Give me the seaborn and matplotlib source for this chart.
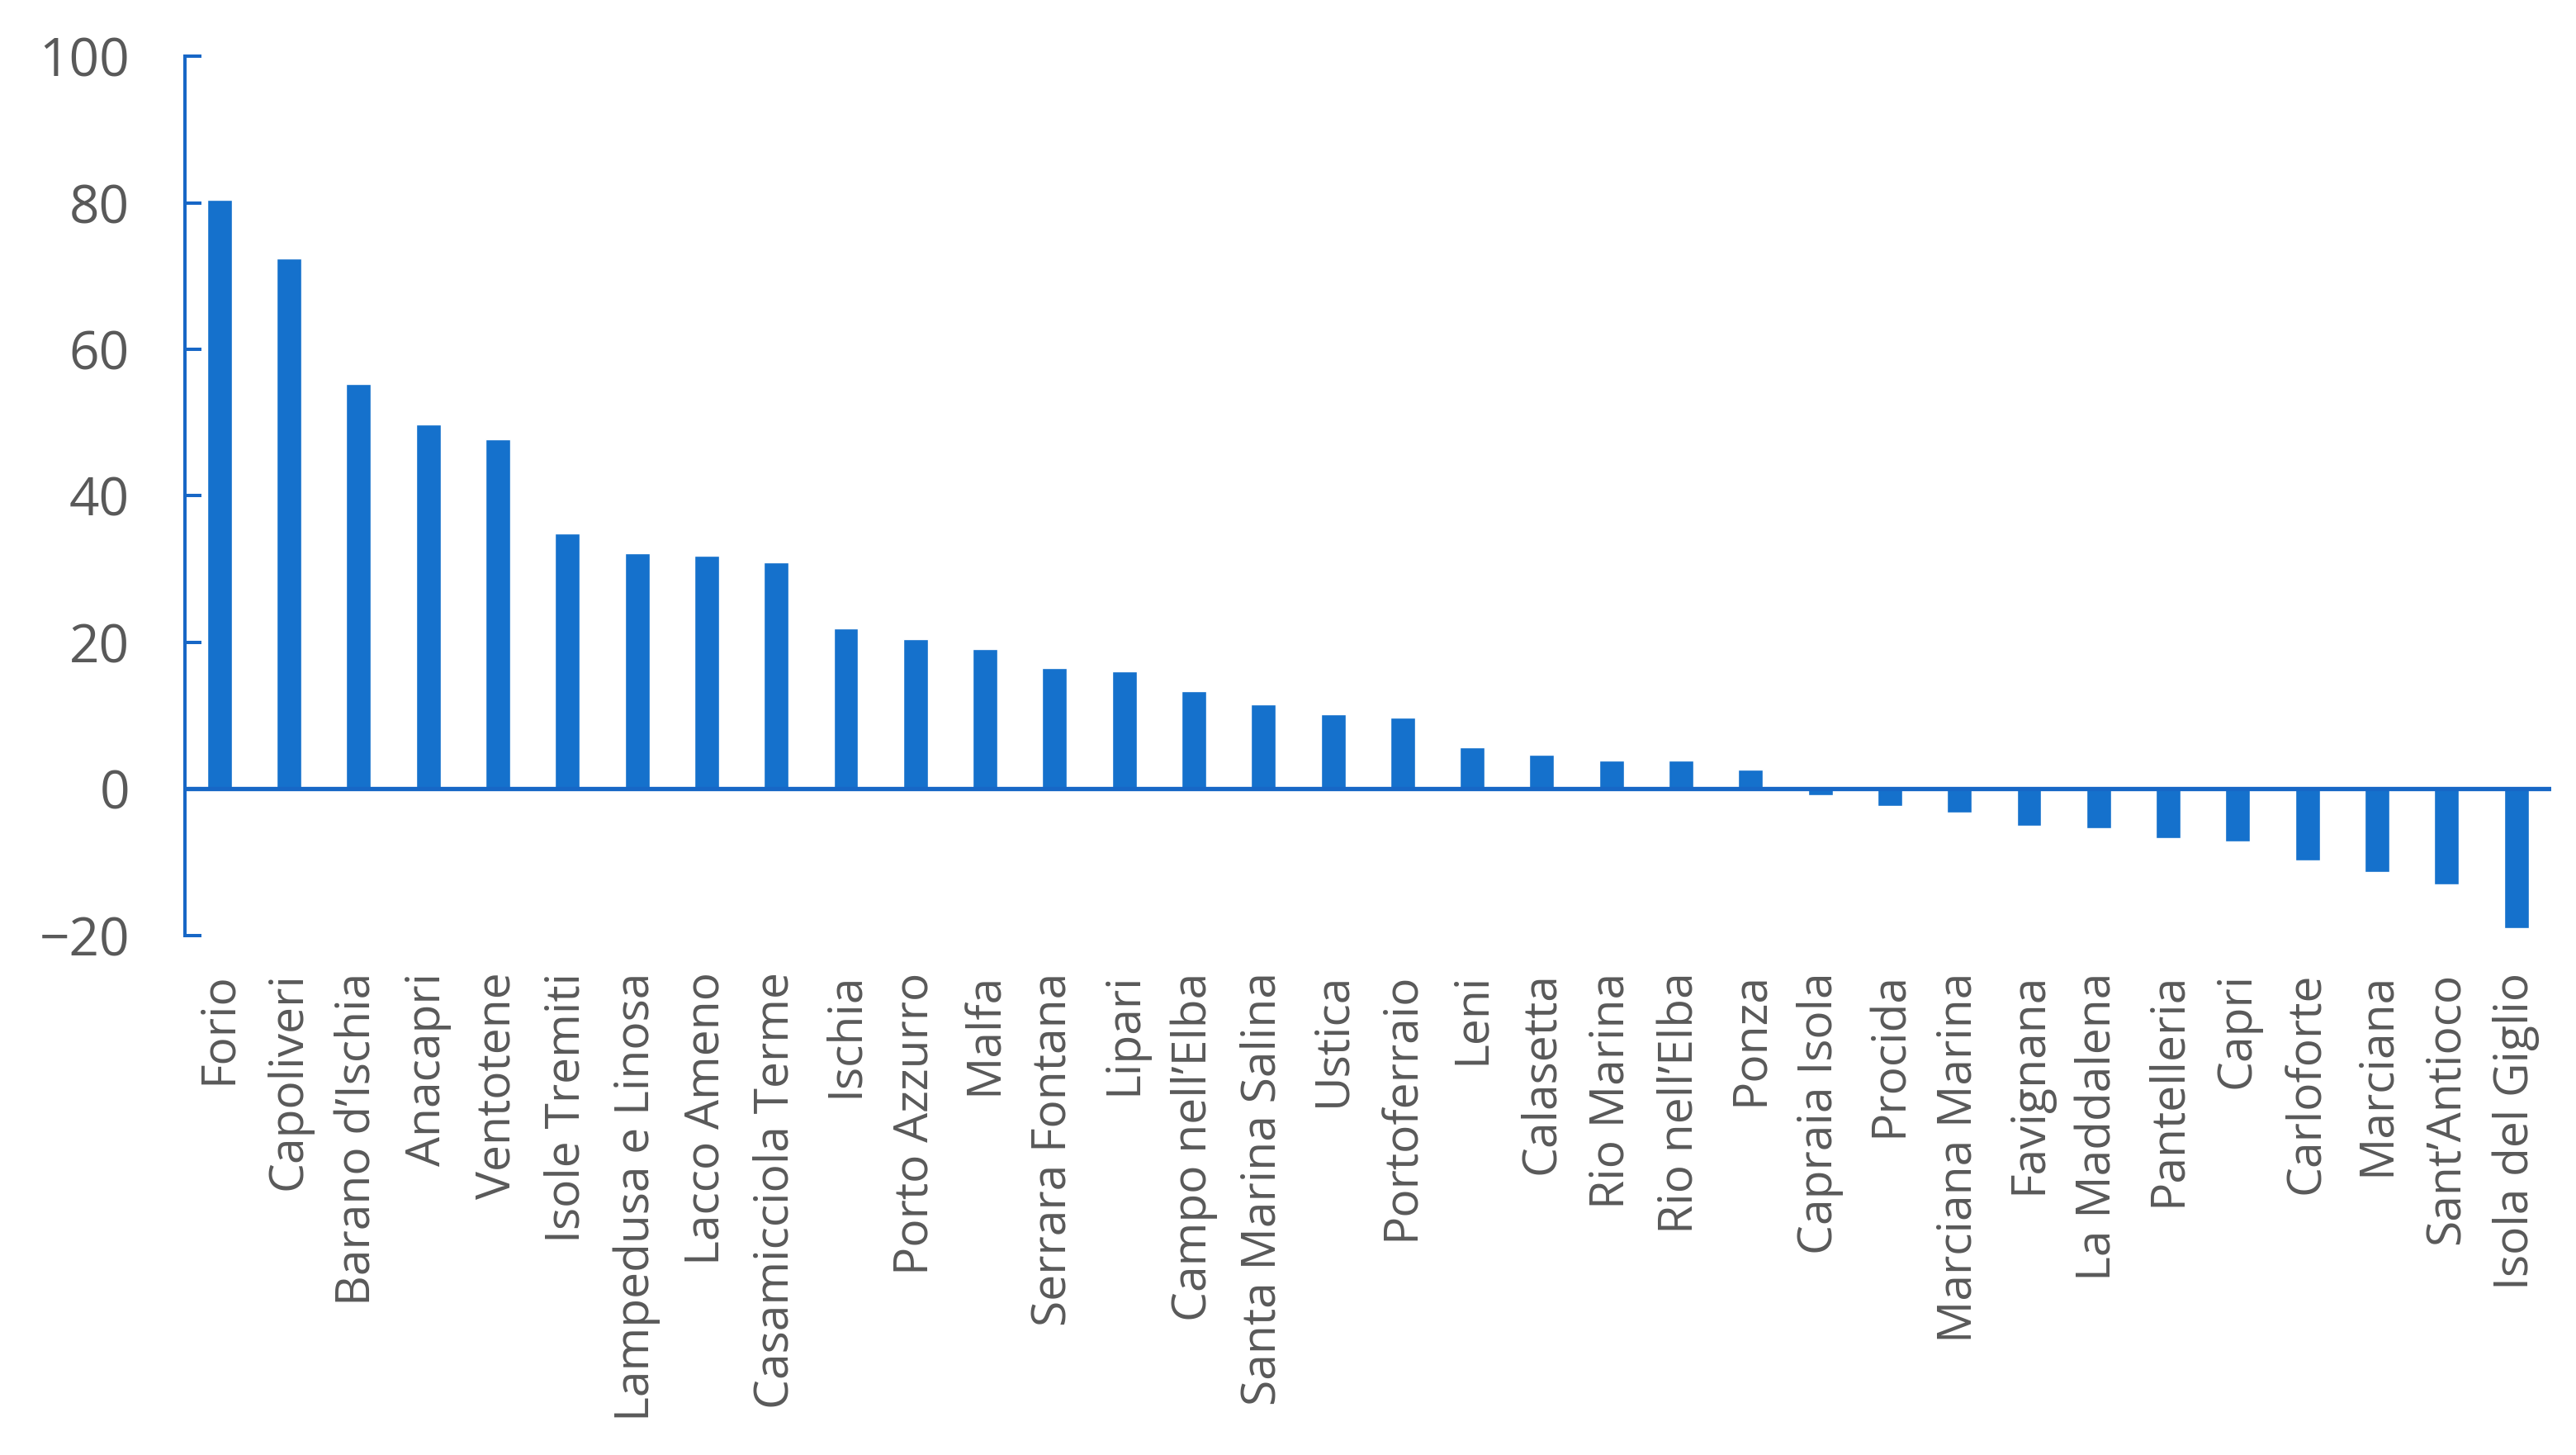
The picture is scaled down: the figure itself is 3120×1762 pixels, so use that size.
import matplotlib
matplotlib.use("Agg")
import matplotlib.pyplot as plt
import seaborn as sns
import pandas as pd

categories = [
    "Forio", "Capoliveri", "Barano d’Ischia", "Anacapri", "Ventotene",
    "Isole Tremiti", "Lampedusa e Linosa", "Lacco Ameno", "Casamicciola Terme",
    "Ischia", "Porto Azzurro", "Malfa", "Serrara Fontana", "Lipari",
    "Campo nell’Elba", "Santa Marina Salina", "Ustica", "Portoferraio", "Leni",
    "Calasetta", "Rio Marina", "Rio nell’Elba", "Ponza", "Capraia Isola",
    "Procida", "Marciana Marina", "Favignana", "La Maddalena", "Pantelleria",
    "Capri", "Carloforte", "Marciana", "Sant’Antioco", "Isola del Giglio",
]
values = [
    80.4, 72.4, 55.3, 49.8, 47.7,
    34.9, 32.2, 31.8, 30.9,
    21.9, 20.5, 19.1, 16.5, 16.1,
    13.3, 11.5, 10.2, 9.7, 5.7,
    4.7, 3.9, 3.9, 2.6, -0.9,
    -2.3, -3.2, -5.0, -5.4, -6.7,
    -7.2, -9.8, -11.3, -13.0, -19.0,
]
y_ticks = [-20, 0, 20, 40, 60, 80, 100]
y_ticklabels = ["\u221220", "0", "20", "40", "60", "80", "100"]

df = pd.DataFrame({"comune": categories, "valore": values})

sns.set_theme(style="white")
plt.rcParams["font.family"] = ["Open Sans", "DejaVu Sans"]

BAR = "#1571CC"
AXIS = "#1767C6"
TEXT = "#595959"

fig = plt.figure(figsize=(31.2, 17.62), dpi=100)
ax = fig.add_axes([0.0717, 0.357, 0.9186, 0.6044])

sns.barplot(data=df, x="comune", y="valore", color=BAR, width=0.355,
            saturation=1, ax=ax, order=categories)

ax.set_xlim(-0.5, len(categories) - 0.5)
ax.set_ylim(-20, 100)
ax.set_yticks(y_ticks)
ax.set_yticklabels(y_ticklabels)
ax.set_xlabel("")
ax.set_ylabel("")

for s in ["top", "right", "bottom"]:
    ax.spines[s].set_visible(False)
ax.spines["left"].set_color(AXIS)
ax.spines["left"].set_linewidth(2.9)

ax.axhline(0, color=AXIS, linewidth=3.8, zorder=3)

ax.tick_params(axis="y", direction="in", length=14.5, width=2.9, color=AXIS,
               labelsize=46, labelcolor=TEXT, pad=48, left=True)
ax.tick_params(axis="x", length=0, labelsize=41, labelcolor=TEXT, pad=32,
               labelrotation=90)

fig.savefig("out.png", dpi=100, facecolor="white")
